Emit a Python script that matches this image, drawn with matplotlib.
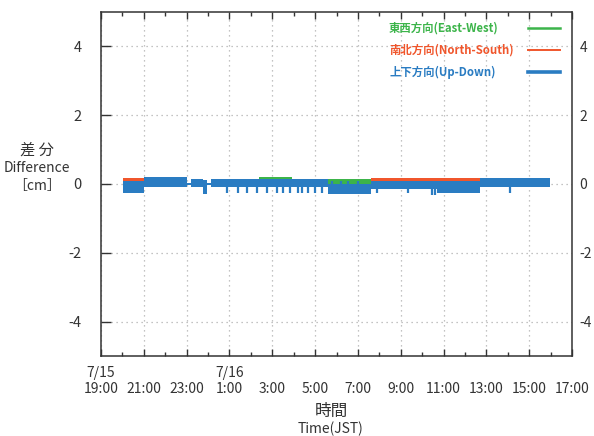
import numpy as np
import matplotlib
matplotlib.use("Agg")
import matplotlib.pyplot as plt

plt.rcParams['font.family'] = ['Noto Sans CJK JP', 'DejaVu Sans']

# hours counted from 7/15 0:00
tick_hours = [19, 21, 23, 25, 27, 29, 31, 33, 35, 37, 39, 41]
tick_labels = ["7/15\n19:00", "\n21:00", "\n23:00", "7/16\n1:00", "\n3:00", "\n5:00",
               "\n7:00", "\n9:00", "\n11:00", "\n13:00", "\n15:00", "\n17:00"]
minor_hours = [20, 22, 24, 26, 28, 30, 32, 34, 36, 38, 40]
y_ticks = [-4, -2, 0, 2, 4]

series_labels = ["東西方向(East-West)", "南北方向(North-South)", "上下方向(Up-Down)"]
colors = ["#3cb44a", "#f0562c", "#2a7cc2"]
handle_widths = [1.8, 1.4, 2.6]

# band edges (upper / lower) of each series between breakpoints [cm]
ew_t = [20.03, 23.0, 23.2, 23.95, 24.15, 26.4, 27.9, 29.6, 31.6, 39.98]
ew_hi = [0.05, 0.02, 0.08, 0.02, 0.12, 0.20, 0.12, 0.15, 0.10]
ew_lo = [-0.10, -0.02, -0.10, -0.02, -0.10, -0.10, -0.10, -0.10, -0.10]

ns_t = [20.03, 21.0, 23.0, 23.2, 23.95, 24.15, 29.6, 31.6, 36.7, 39.98]
ns_hi = [0.17, 0.12, 0.02, 0.10, 0.02, 0.10, -0.05, 0.17, 0.15]
ns_lo = [-0.10, -0.10, -0.02, -0.10, -0.02, -0.10, -0.10, -0.10, -0.10]

ud_t = [20.03, 21.0, 23.0, 23.2, 23.75, 23.95, 24.15, 29.6, 31.6, 34.7, 36.7, 39.98]
ud_hi = [0.10, 0.19, 0.02, 0.15, 0.12, 0.02, 0.15, 0.00, 0.10, 0.10, 0.17]
ud_lo = [-0.25, -0.10, -0.02, -0.10, -0.30, -0.02, -0.10, -0.30, -0.14, -0.25, -0.10]

# short excursions of the up-down series
ud_spk_t = [24.9, 25.4, 25.82, 26.29, 26.76, 27.22, 27.5, 27.83, 28.2, 28.38, 28.69, 29.0,
            29.31, 29.8, 30.2, 30.55, 31.0, 31.88, 33.35, 34.45, 34.6, 38.1]
ud_spk_lo = [-0.25, -0.25, -0.25, -0.25, -0.25, -0.25, -0.25, -0.25, -0.25, -0.25, -0.25, -0.25,
             -0.25, -0.30, -0.30, -0.30, -0.30, -0.25, -0.25, -0.32, -0.32, -0.25]
ud_spk_hi = [0.15, 0.15, 0.15, 0.15, 0.15, 0.15, 0.15, 0.15, 0.15, 0.15, 0.15, 0.15,
             0.15, 0.10, 0.10, 0.08, 0.10, 0.10, 0.10, 0.10, 0.10, 0.17]

fig = plt.figure(figsize=(5.94, 4.36), dpi=100)
ax = fig.add_axes([0.170, 0.1835, 0.793, 0.789])

txt = "#333333"

def band(t, hi, lo, c):
    ax.fill_between(t, hi + hi[-1:], lo + lo[-1:], step='post', color=c, lw=0, zorder=3)

band(ew_t, ew_hi, ew_lo, colors[0])
band(ns_t, ns_hi, ns_lo, colors[1])
band(ud_t, ud_hi, ud_lo, colors[2])
ax.vlines(ud_spk_t, ud_spk_lo, ud_spk_hi, color=colors[2], lw=1.6, zorder=3)

ax.set_xlim(19, 41)
ax.set_ylim(-5, 5)
ax.set_xticks(tick_hours)
ax.set_xticklabels(tick_labels, fontsize=10, color=txt, linespacing=1.25)
for lbl in ax.get_xticklabels():
    lbl.set_multialignment('center')
ax.set_xticks(minor_hours, minor=True)
ax.set_yticks(y_ticks)
ax.set_yticklabels([str(v) for v in y_ticks], fontsize=10.5, color=txt)

ax.tick_params(axis='x', which='major', direction='in', length=5, width=1, color=txt,
               top=True, pad=7)
ax.tick_params(axis='x', which='minor', direction='in', length=3, width=1, color=txt, top=True)
ax.tick_params(axis='y', which='major', direction='in', length=7, width=1, color=txt,
               right=True, pad=14)

ax2 = ax.twinx()
ax2.set_ylim(-5, 5)
ax2.set_yticks(y_ticks)
ax2.set_yticklabels([str(v) for v in y_ticks], fontsize=10, color=txt)
ax2.tick_params(axis='y', direction='in', length=0, pad=5.5)
for s in ax2.spines.values():
    s.set_visible(False)

for s in ax.spines.values():
    s.set_color(txt)
    s.set_linewidth(1.1)

ax.grid(True, which='major', color='#b0b0b0', linestyle=(0, (1, 3)), linewidth=0.9)
ax.set_axisbelow(True)

# gnuplot-style key: label on the left, sample line on the right
key_rows = [0.9535, 0.8895, 0.8256]
for lab, c, w, ky in zip(series_labels, colors, handle_widths, key_rows):
    ax.text(0.6115, ky, lab, transform=ax.transAxes, color=c, fontsize=8.2,
            fontweight='bold', ha='left', va='center')
    ax.plot([0.9066, 0.9745], [ky, ky], transform=ax.transAxes, color=c, lw=w)

fig.text(37 / 594, 1 - 150 / 436, "差 分", ha='center', va='center', fontsize=11, color=txt)
fig.text(37 / 594, 1 - 168 / 436, "Difference", ha='center', va='center', fontsize=10, color=txt)
fig.text(37 / 594, 1 - 186 / 436, "［cm］", ha='center', va='center', fontsize=10, color=txt)
fig.text(331 / 594, 1 - 411 / 436, "時間", ha='center', va='center', fontsize=12, color=txt)
fig.text(331 / 594, 1 - 429 / 436, "Time(JST)", ha='center', va='center', fontsize=10, color=txt)

fig.savefig("out.png", dpi=100)
